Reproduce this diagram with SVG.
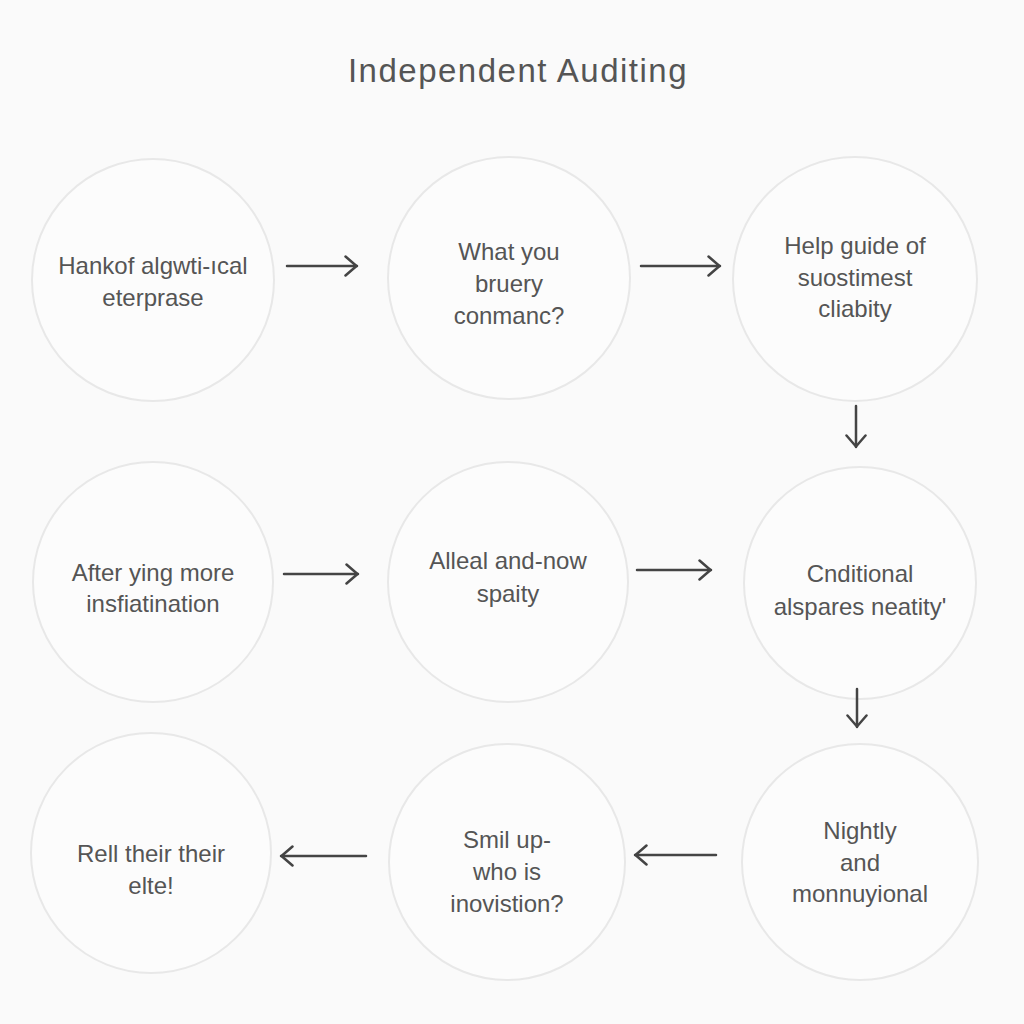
<svg xmlns="http://www.w3.org/2000/svg" width="1024" height="1024" viewBox="0 0 1024 1024">
<defs>
<style>
.node circle{fill:#fcfcfc;stroke:#e8e8e8;stroke-width:2}
.node text{font-family:"Liberation Sans",Arial,sans-serif;font-size:24px;fill:#555;text-anchor:middle}
.title{font-family:"Liberation Sans",Arial,sans-serif;font-size:33px;fill:#555;text-anchor:middle;letter-spacing:1.5px}
.edge{stroke:#444;stroke-width:2.5;fill:none;stroke-linecap:round;stroke-linejoin:round}
</style>
<marker id="ah" viewBox="0 0 14 22" refX="13" refY="11" markerWidth="14" markerHeight="22" markerUnits="userSpaceOnUse" orient="auto">
<path d="M1.5,1.5 L12.5,11 L1.5,20.5" fill="none" stroke="#444" stroke-width="2.5" stroke-linecap="round" stroke-linejoin="round"/>
</marker>
</defs>
<rect width="1024" height="1024" fill="#fafafa"/>
<text class="title" x="518" y="82">Independent Auditing</text>
<g id="n1" class="node"><circle cx="153" cy="280" r="121"/><text x="153" y="274">Hankof algwti-ıcal</text><text x="153" y="306">eterprase</text></g>
<g id="n2" class="node"><circle cx="509" cy="278" r="121"/><text x="509" y="260">What you</text><text x="509" y="292">bruery</text><text x="509" y="324">conmanc?</text></g>
<g id="n3" class="node"><circle cx="855" cy="279" r="122"/><text x="855" y="254">Help guide of</text><text x="855" y="286">suostimest</text><text x="855" y="317">cliabity</text></g>
<g id="n4" class="node"><circle cx="153" cy="582" r="120"/><text x="153" y="581">After ying more</text><text x="153" y="612">insfiatination</text></g>
<g id="n5" class="node"><circle cx="508" cy="582" r="120"/><text x="508" y="569">Alleal and-now</text><text x="508" y="602">spaity</text></g>
<g id="n6" class="node"><circle cx="860" cy="583" r="116"/><text x="860" y="582">Cnditional</text><text x="860" y="615">alspares neatity'</text></g>
<g id="n7" class="node"><circle cx="151" cy="853" r="120"/><text x="151" y="862">Rell their their</text><text x="151" y="894">elte!</text></g>
<g id="n8" class="node"><circle cx="507" cy="862" r="118"/><text x="507" y="848">Smil up-</text><text x="507" y="880">who is</text><text x="507" y="912">inovistion?</text></g>
<g id="n9" class="node"><circle cx="860" cy="862" r="118"/><text x="860" y="839">Nightly</text><text x="860" y="871">and</text><text x="860" y="902">monnuyional</text></g>
<g id="connectors">
<line class="edge" x1="287" y1="266" x2="357" y2="266" marker-end="url(#ah)"/>
<line class="edge" x1="641" y1="266" x2="720" y2="266" marker-end="url(#ah)"/>
<line class="edge" x1="856" y1="406" x2="856" y2="447" marker-end="url(#ah)"/>
<line class="edge" x1="284" y1="574" x2="358" y2="574" marker-end="url(#ah)"/>
<line class="edge" x1="637" y1="570" x2="711" y2="570" marker-end="url(#ah)"/>
<line class="edge" x1="857" y1="689" x2="857" y2="727" marker-end="url(#ah)"/>
<line class="edge" x1="716" y1="855" x2="635" y2="855" marker-end="url(#ah)"/>
<line class="edge" x1="366" y1="856" x2="281" y2="856" marker-end="url(#ah)"/>
</g>
</svg>
